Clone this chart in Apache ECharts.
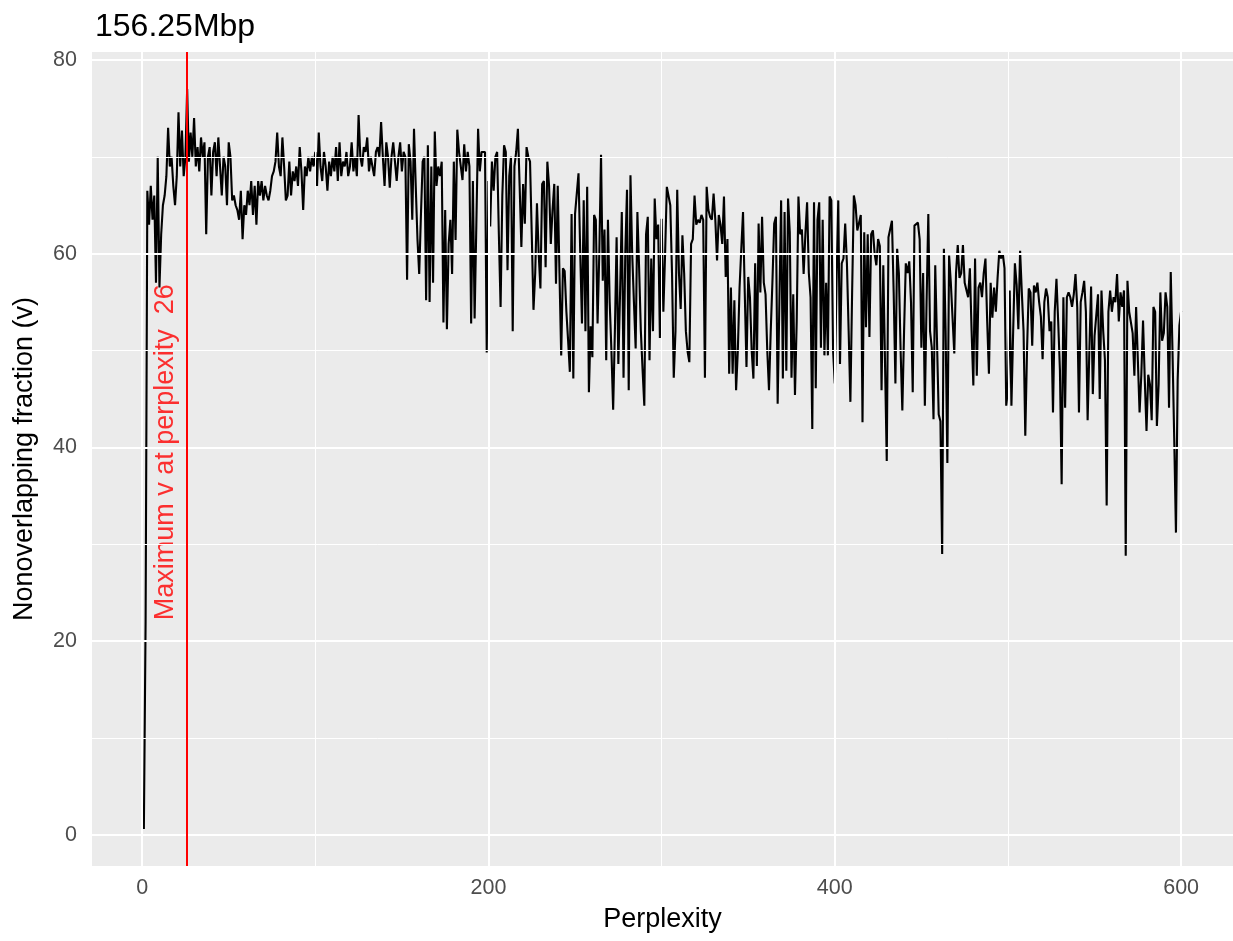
<!DOCTYPE html>
<html>
<head>
<meta charset="utf-8">
<script src="https://cdn.jsdelivr.net/npm/echarts@6/dist/echarts.min.js"></script>
<style>
html,body{margin:0;padding:0;background:#fff;}
#chart{width:1233px;height:941px;}
</style>
</head>
<body>
<div id="chart"></div>
<script>
// ---- data (perplexity 1..600, nonoverlapping fraction v) ----
const firstPerplexity = 1;
const v001_100 = [
0.6,22,66.5,63,67,63.5,66,57,70,56.5,
62,65,66,68,73,69,70,67,65,68,
74.6,69,72.7,68,70,77,69.5,72.5,70,74,
69,71,68.5,72,70,71.5,62,70,71,66,
70.5,71.5,68,72,69,66,70,69,65,71.5,
70,65.5,66,65,64.5,63.5,66.5,61.5,65,64,
66.5,65,67.5,64,67,63,67.5,66,67.5,65.5,
67,66,65.5,66.5,68,68.5,69.5,72.5,69,68,
72,69,65.5,66,69.5,66,68.5,67.5,69,67,
71,68.5,64.5,69,68,70,68.5,70,69,70.5];
const v101_200 = [
67,72.5,69,67.5,70.5,69,66.5,69.5,68,70,
68.5,71,67.5,71.5,68,69.5,69,70.5,68,69,
71.5,68.5,70,68,74.3,70,69,71,70.5,72,
68.5,70,69,68,70.5,71,70,73.6,70,67,
71.5,70,66.8,70,71.5,69.5,67.5,70,71.5,68.5,
70.5,70,57.3,71.3,69.5,63.5,72.9,67,61.5,57.9,
64,69.5,70,55.2,71.2,55,69,57,72.6,67,
69,68,69.5,52.9,64.5,52.2,61,63.5,57.9,69.5,
61.4,72.8,70.5,70.5,67.6,71.3,68.5,70.5,69,52.8,
67.5,53.3,63,72.9,68.5,70.5,70.5,70.5,49.8,67.5];
const v201_300 = [
62.8,69.5,66.5,70,70.5,62,54.5,66,71.2,70.5,
58.3,68,70,52,69,70.5,72.9,67,60.7,67.2,
63.1,71,70,69.5,62,54.2,58,65.2,60,56.4,
67.2,67.5,58.6,69.5,67,61,64.5,67.2,56.9,67,
58,49.5,58.5,58.2,54,51,47.8,64.1,47.1,64.1,
64.2,68.3,60,52.8,65.5,52,66.9,45.7,52.5,49.3,
64,63.5,52.8,60,70.2,57.2,62.5,49,63.5,55,
50,43.9,52,61.7,48.6,56,64.3,47.2,60,66.6,
45.9,68.1,60,55,50.2,64.3,58.5,52,48,44.3,
62,63.8,49,59.5,52,65.7,61.5,63,51.3,63.6];
const v301_400 = [
54,60,66.9,67,65,58,47.2,52,66.6,58,
54.3,61.9,58,52,49.9,48.8,61,61.5,66,63,
63.5,63.2,64,63.5,47.2,66.9,64.5,63.8,63.5,66.2,
63.5,59.3,64,63,61,65.9,57.6,61.5,47.6,56.5,
47.6,55.2,45.9,50,56.5,60.5,64.3,56,48.3,57.6,
55.5,50,47.1,59,48.4,63.1,56,63.8,57,55.8,
50,45.9,52,57.2,63.1,63.8,44.5,55,65.5,47.1,
64.3,47.9,65.7,62.2,47.2,55.8,45.4,53,65.9,62,
62.5,57.9,62,65.3,58,55.5,41.9,65.3,46.1,63.5,
65.3,50.3,63.5,49.5,57,49.5,65.9,65.5,50,46.6];
const v401_500 = [
57,65.5,48.6,59,59.5,63.1,59,52,44.7,56,
66,65,62.4,62.5,64,42.6,62.2,52.4,62,51.4,
62,62.4,60,58.8,61.5,60.8,45.9,58.8,59,38.6,
61.7,61.5,63.4,56,46.6,60.5,58,50,43.8,52,
59,58,59.2,55,45.7,62.9,62.9,63.2,61.5,50.3,
58,44.3,55,64.1,52,50.3,42.9,58.8,58.8,43.4,
42.7,29,60.5,52,38.4,59.8,57,56.8,49.7,58,
60.9,57.5,58,60.9,57,56.8,55.5,58.5,52,46.4,
59.5,47.4,56.5,57,55.5,58,59.5,53,47.6,57,
53.4,56.5,54,57.5,60.3,59.5,60,58.5,44.3,46];
const v501_600 = [
56.2,44.3,52,59,56.8,52.2,60.3,56,52,41.2,
50,56.4,56,50.5,56.7,56,57,55,53.5,49.1,
55,56.4,55.5,52,53,43.6,54,57.4,53,48,
36.2,55.5,44.1,55.5,56,55.5,54.5,55.8,57.9,54.5,
43.6,55,56,57.2,54,42.8,50,56.6,45.5,51.5,
51.5,55.8,45,56.2,52,49,34,54,56.2,54,
55.5,55,57.9,53,56,54.5,56.2,28.8,57.2,54,
54,51.8,47.4,54.5,54.5,43.6,47.5,53.1,47,41.7,
47.5,46.5,42.8,54.5,54,42.2,46.5,56,51,51.8,
56,54.5,44.1,58.1,50,41,31.2,47,52.6,54.1];

const maxPerplexity = 26;
const annotationText = 'Maximum v at perplexity  26';
const annotationX = 13.5;
const annotationY = 39.5;
const titleText = '156.25Mbp';
const xTicks = [0, 200, 400, 600];
const xMinor = [100, 300, 500];
const yTicks = [0, 20, 40, 60, 80];
const yMinor = [10, 30, 50, 70];

// ---- build ----
const allValues = [].concat(v001_100, v101_200, v201_300, v301_400, v401_500, v501_600);
const lineData = allValues.map((v, i) => [firstPerplexity + i, v]);

const xRange = [firstPerplexity, firstPerplexity + allValues.length - 1];
const yRange = [Math.min.apply(null, allValues), Math.max.apply(null, allValues)];
const ex = (xRange[1] - xRange[0]) * 0.05;
const ey = (yRange[1] - yRange[0]) * 0.05;

const gridMarks = []
  .concat(xMinor.map(v => ({xAxis: v, lineStyle: {width: 1}})))
  .concat(yMinor.map(v => ({yAxis: v, lineStyle: {width: 1}})))
  .concat(xTicks.map(v => ({xAxis: v, lineStyle: {width: 2}})))
  .concat(yTicks.map(v => ({yAxis: v, lineStyle: {width: 2}})));

const chart = echarts.init(document.getElementById('chart'), null, {renderer: 'canvas'});
const FONT = '"Liberation Sans", Arial, sans-serif';
chart.setOption({
  animation: false,
  backgroundColor: '#ffffff',
  title: {
    text: titleText,
    left: 90, top: 6,
    textStyle: {fontFamily: FONT, fontSize: 32, fontWeight: 'normal', color: '#000'}
  },
  grid: {
    left: 92, right: 0, top: 52, bottom: 75,
    show: true, backgroundColor: '#EBEBEB', borderWidth: 0
  },
  xAxis: {
    type: 'value',
    min: xRange[0] - ex, max: xRange[1] + ex,
    name: 'Perplexity', nameLocation: 'middle', nameGap: 40,
    nameTextStyle: {fontFamily: FONT, fontSize: 27, color: '#000'},
    axisLine: {show: false},
    axisTick: {show: true, customValues: xTicks, length: 6, lineStyle: {color: '#333333', width: 2}},
    axisLabel: {customValues: xTicks, fontFamily: FONT, fontSize: 21.5, color: '#4D4D4D', margin: 11},
    splitLine: {show: false}
  },
  yAxis: {
    type: 'value',
    min: yRange[0] - ey, max: yRange[1] + ey,
    name: 'Nonoverlapping fraction (v)', nameLocation: 'middle', nameGap: 54, nameRotate: 90,
    nameTextStyle: {fontFamily: FONT, fontSize: 27, color: '#000'},
    axisLine: {show: false},
    axisTick: {show: true, customValues: yTicks, length: 6, lineStyle: {color: '#333333', width: 2}},
    axisLabel: {customValues: yTicks, fontFamily: FONT, fontSize: 21.5, color: '#4D4D4D', margin: 15},
    splitLine: {show: false}
  },
  series: [
    {
      type: 'line', data: [], z: 1, silent: true,
      markLine: {
        silent: true, symbol: 'none', animation: false,
        label: {show: false},
        lineStyle: {color: '#FFFFFF', type: 'solid'},
        data: gridMarks
      }
    },
    {
      type: 'line', data: lineData, z: 3,
      showSymbol: false, symbol: 'none', sampling: null,
      lineStyle: {color: '#000000', width: 2.1},
      markLine: {
        silent: true, symbol: 'none', animation: false,
        label: {show: false},
        lineStyle: {color: '#FF0000', width: 2, type: 'solid'},
        data: [{xAxis: maxPerplexity}]
      }
    },
    {
      type: 'scatter', data: [[annotationX, annotationY]], z: 4,
      symbolSize: 0, silent: true,
      label: {
        show: true, position: 'inside', rotate: 90,
        formatter: annotationText,
        fontFamily: FONT, fontSize: 27, color: '#FF0000'
      }
    }
  ]
});
</script>
</body>
</html>
